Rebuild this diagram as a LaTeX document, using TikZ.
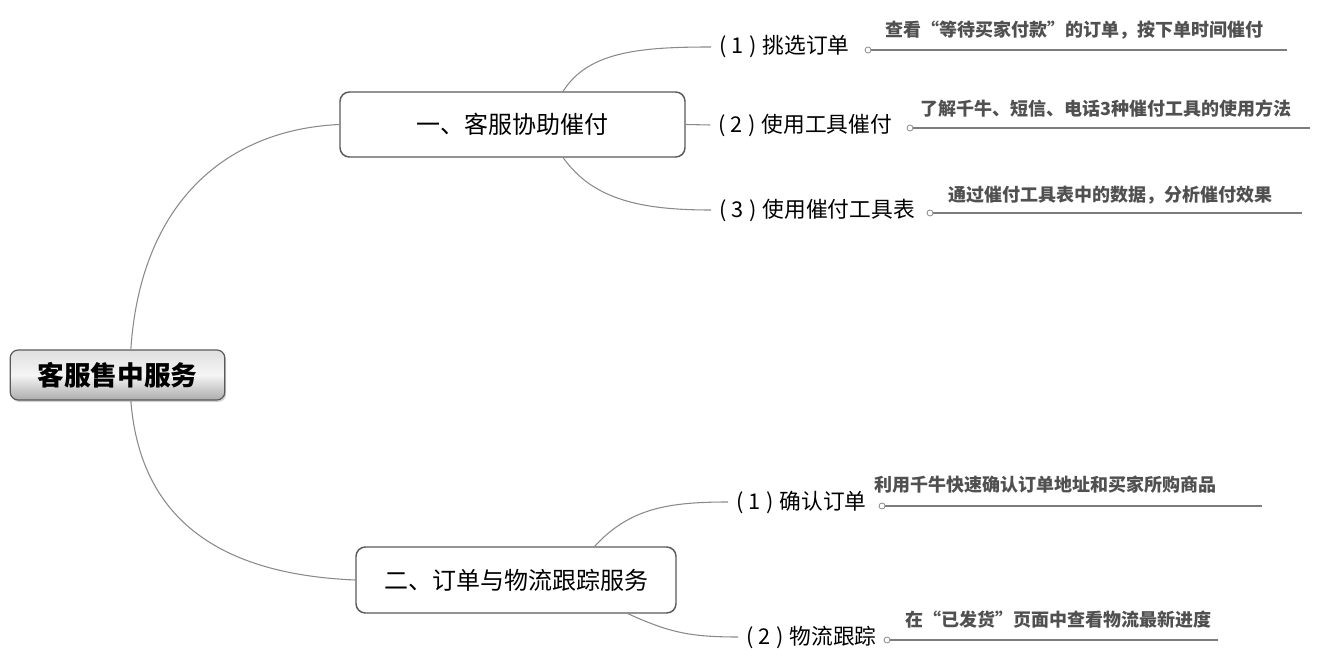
\documentclass[tikz,border=0pt]{standalone}
\usepackage{fontspec}
\setmainfont{Noto Sans CJK SC}
\usetikzlibrary{shadows}
\definecolor{linegray}{HTML}{8A8A8A}
\definecolor{boxborder}{HTML}{5A5A5A}
\definecolor{desctext}{HTML}{505050}
\newcommand{\pnum}[1]{(\hspace{4pt}#1\hspace{4pt})\hspace{4.5pt}}
\tikzset{
  rootbox/.style={draw=boxborder, line width=0.9pt, rounded corners=6pt,
    top color=gray!25, bottom color=gray!65, middle color=white!92!gray,
    minimum width=161pt, minimum height=37.5pt, inner sep=0pt,
    font=\fontsize{20pt}{22pt}\selectfont\bfseries,
    drop shadow={shadow xshift=1pt, shadow yshift=-1.5pt, opacity=0.35}},
  branchbox/.style={draw=boxborder, line width=1.1pt, rounded corners=7pt,
    fill=white, inner sep=0pt, font=\fontsize{18pt}{20pt}\selectfont},
  leaf/.style={inner xsep=6pt, inner ysep=0pt, anchor=west,
    font=\fontsize{16.3pt}{18pt}\selectfont},
  desc/.style={inner sep=0pt, anchor=west, text=desctext,
    font=\fontsize{13.5pt}{15pt}\selectfont\bfseries},
  dotnode/.style={circle, draw=linegray, fill=white, line width=0.6pt,
    minimum size=4.5pt, inner sep=0pt},
  conn/.style={draw=linegray, line width=0.8pt},
  uline/.style={draw=linegray!90!black, line width=1.1pt}
}
\begin{document}
\begin{tikzpicture}[x=0.75pt, y=-0.75pt]
\useasboundingbox (0,0) rectangle (1319,663);

% main nodes
\node[rootbox] (root) at (117.5,375) {客服售中服务};
\node[branchbox, minimum width=258.75pt, minimum height=48.75pt] (b1) at (512.5,124.5) {一、客服协助催付};
\node[branchbox, minimum width=240pt, minimum height=49.5pt] (b2) at (516,580) {二、订单与物流跟踪服务};

% leaves of branch 1
\node[leaf] (a1) at (711,47) {\pnum{1}挑选订单};
\node[leaf] (a2) at (710,125) {\pnum{2}使用工具催付};
\node[leaf] (a3) at (711,210) {\pnum{3}使用催付工具表};
% leaves of branch 2
\node[leaf] (c1) at (728,502) {\pnum{1}确认订单};
\node[leaf] (c2) at (738,637) {\pnum{2}物流跟踪};

% dots, underlines, descriptions
\node[dotnode] (da1) at (868,50) {};
\coordinate (ea1) at (1287,50);
\node[desc] (ta1) at (885,30) {查看“等待买家付款”的订单，按下单时间催付};

\node[dotnode] (da2) at (910,128) {};
\coordinate (ea2) at (1310,128);
\node[desc] (ta2) at (920,109) {了解千牛、短信、电话3种催付工具的使用方法};

\node[dotnode] (da3) at (930,213) {};
\coordinate (ea3) at (1302,213);
\node[desc] (ta3) at (948,195) {通过催付工具表中的数据，分析催付效果};

\node[dotnode] (dc1) at (882,506) {};
\coordinate (ec1) at (1262,506);
\node[desc] (tc1) at (874,485) {利用千牛快速确认订单地址和买家所购商品};

\node[dotnode] (dc2) at (887,640) {};
\coordinate (ec2) at (1218,640);
\node[desc] (tc2) at (905,620) {在“已发货”页面中查看物流最新进度};

\foreach \d/\e in {da1/ea1, da2/ea2, da3/ea3, dc1/ec1, dc2/ec2}
  \draw[uline] (\d.east) -- (\e);

% connectors root -> branches
\draw[conn] ([xshift=10]root.north) .. controls +(10,-150) and +(-110,5) .. (b1.west);
\draw[conn] ([xshift=10]root.south) .. controls +(10,130) and +(-120,-5) .. (b2.west);

% branch 1 -> leaves
\draw[conn] ([xshift=38]b1.north) .. controls +(25,-40) and +(-70,0) .. (a1.west);
\draw[conn] (b1.east) -- (a2.west);
\draw[conn] ([xshift=38]b1.south) .. controls +(30,42) and +(-70,0) .. (a3.west);

% branch 2 -> leaves
\draw[conn] ([xshift=59]b2.north) .. controls +(35,-38) and +(-60,0) .. (c1.west);
\draw[conn] ([xshift=84]b2.south) .. controls +(40,18) and +(-50,0) .. (c2.west);
\end{tikzpicture}
\end{document}
